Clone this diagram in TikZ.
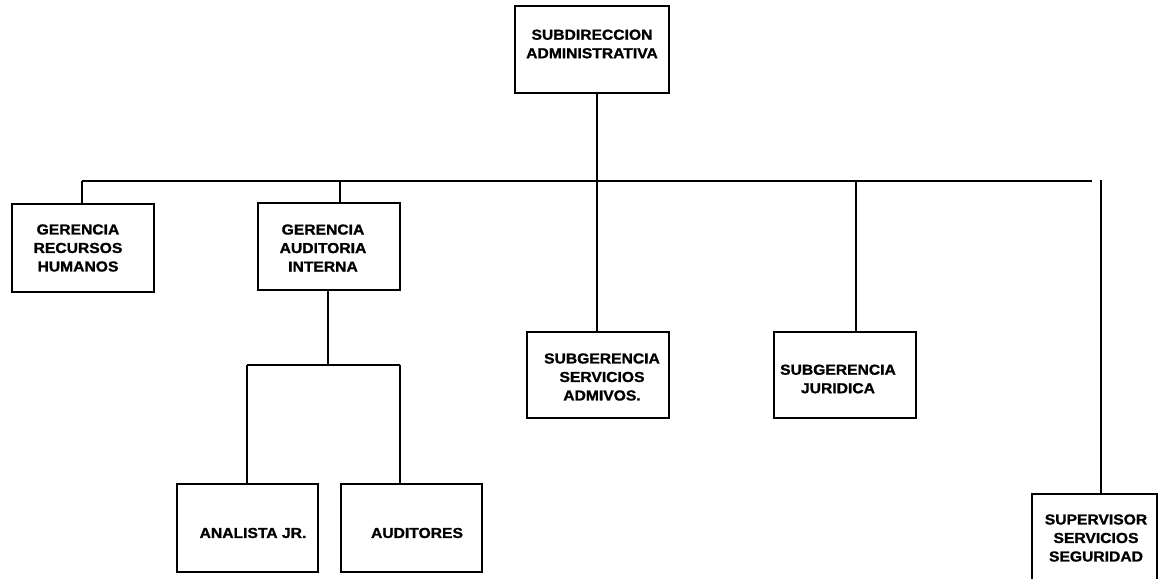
\documentclass[tikz,border=0pt]{standalone}
\usepackage{fontspec}
\setmainfont{Liberation Sans}[FakeStretch=1.08,BoldFeatures={FakeBold=1.2}]
\begin{document}
\begin{tikzpicture}[x=1pt,y=-1pt,
  unit/.style={draw=black,line width=1.6pt,inner sep=0pt,
    minimum width=142pt,minimum height=87pt},
  caption/.style={align=center,inner sep=0pt,
    font=\fontsize{14.5}{18.5}\selectfont\bfseries},
  link/.style={line width=1.6pt}]
\clip (0,0) rectangle (1158,578);
\fill[white] (0,0) rectangle (1158,578);

% boxes
\node[unit,minimum width=154pt] (sub) at (592,49.5) {};
\node[unit,minimum height=88pt] (grh) at (83,248) {};
\node[unit] (gai) at (329,246.5) {};
\node[unit,minimum width=141pt,minimum height=88pt] (ana) at (247.5,528) {};
\node[unit,minimum width=141pt,minimum height=88pt] (aud) at (411.5,528) {};
\node[unit,minimum height=86pt] (ssa) at (598,375) {};
\node[unit,minimum height=86pt] (sj) at (845,375) {};
\node[unit,minimum width=125pt,minimum height=100pt] (sup) at (1094.5,544) {};

% captions
\node[caption] (sub-t) at (592,44) {SUBDIRECCION\\ADMINISTRATIVA};
\node[caption] (grh-t) at (78,248) {GERENCIA\\RECURSOS\\HUMANOS};
\node[caption] (gai-t) at (323,248) {GERENCIA\\AUDITORIA\\INTERNA};
\node[caption] (ana-t) at (253,533) {ANALISTA JR.};
\node[caption] (aud-t) at (417,533) {AUDITORES};
\node[caption] (ssa-t) at (602,377) {SUBGERENCIA\\SERVICIOS\\ADMIVOS.};
\node[caption] (sj-t) at (838,379) {SUBGERENCIA\\JURIDICA};
\node[caption] (sup-t) at (1096,538) {SUPERVISOR\\SERVICIOS\\SEGURIDAD};

% main bus
\coordinate (busL) at (82,181);
\coordinate (busR) at (1092,181);
\coordinate (busG) at (340,181);
\coordinate (busJ) at (856,181);
\coordinate (busS) at (1101,180);
\draw[link] (busL) -- (busR);
\draw[link] (sub.south -| 597,0) -- (ssa.north -| 597,0);
\draw[link] (busL) -- (grh.north -| busL);
\draw[link] (busG) -- (gai.north -| busG);
\draw[link] (busJ) -- (sj.north -| busJ);
\draw[link] (busS) -- (sup.north -| busS);

% audit branch
\coordinate (audL) at (247,365);
\coordinate (audR) at (400,365);
\draw[link] (gai.south -| 328,0) -- (328,365);
\draw[link] (audL) -- (audR);
\draw[link] (audL) -- (ana.north -| audL);
\draw[link] (audR) -- (aud.north -| audR);
\end{tikzpicture}
\end{document}
